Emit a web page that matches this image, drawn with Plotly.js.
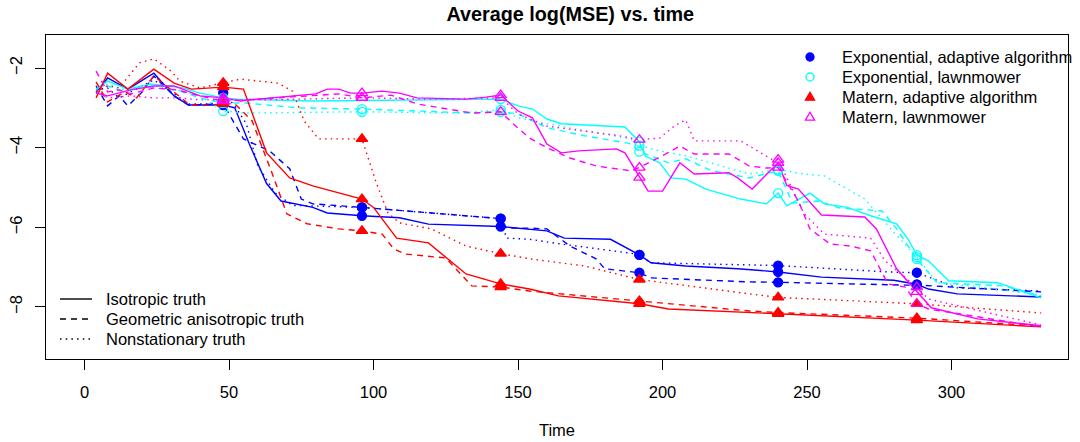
<!DOCTYPE html>
<html>
<head>
<meta charset="utf-8">
<script src="https://cdn.plot.ly/plotly-3.0.1.min.js"></script>
<style>html,body{margin:0;padding:0;background:#fff;}#chart{width:1080px;height:442px;}</style>
</head>
<body>
<div id="chart"></div>
<script>
// ---------- DATA ----------
const markerTimes = [48, 96, 144, 192, 240, 288];

// Exponential, adaptive algorithm (blue)
const expAdaptIsoT  = [4, 8, 15, 24, 31, 36, 48, 52, 57, 63, 68, 79, 84, 96, 109, 119, 144, 154, 160, 166, 182, 192, 196, 208, 226, 240, 255, 280, 288, 292, 302, 331];
const expAdaptIsoY  = [-2.63, -2.25, -2.53, -2.13, -2.70, -2.93, -2.93, -3.00, -3.90, -4.90, -5.34, -5.50, -5.64, -5.71, -5.76, -5.92, -5.98, -6.06, -6.09, -6.27, -6.30, -6.69, -6.89, -6.97, -7.04, -7.12, -7.25, -7.33, -7.43, -7.55, -7.67, -7.75];
const expAdaptGeoT  = [4, 8, 12, 15, 20, 24, 31, 36, 48, 55, 64, 71, 75, 79, 96, 144, 146, 154, 160, 168, 177, 180, 192, 196, 230, 240, 284, 288, 331];
const expAdaptGeoY  = [-2.45, -2.95, -2.70, -2.95, -2.60, -2.20, -2.70, -2.93, -2.90, -3.78, -4.08, -4.53, -5.29, -5.41, -5.50, -5.78, -6.02, -6.02, -6.04, -6.47, -6.79, -7.04, -7.14, -7.27, -7.37, -7.38, -7.45, -7.45, -7.62];
const expAdaptNonT  = [4, 8, 12, 16, 20, 24, 31, 36, 44, 48, 52, 56, 60, 66, 72, 96, 144, 146, 154, 165, 189, 192, 196, 230, 240, 278, 288, 302, 331];
const expAdaptNonY  = [-2.55, -2.50, -2.75, -2.60, -2.45, -2.30, -2.65, -2.90, -2.90, -2.62, -2.95, -3.40, -4.46, -5.14, -5.45, -5.50, -5.78, -6.27, -6.30, -6.42, -6.65, -6.69, -6.89, -6.93, -6.96, -7.12, -7.14, -7.52, -7.60];

// Exponential, lawnmower (cyan)
const expLawnIsoT   = [4, 8, 15, 23, 34, 40, 48, 53, 79, 144, 150, 155, 160, 165, 187, 192, 194, 199, 203, 208, 215, 227, 236, 240, 243, 251, 256, 264, 272, 281, 285, 288, 292, 299, 316, 331];
const expLawnIsoY   = [-2.53, -2.33, -2.53, -2.40, -2.50, -2.63, -2.75, -2.78, -2.83, -2.78, -2.95, -3.03, -3.28, -3.40, -3.48, -3.85, -4.21, -4.38, -4.76, -4.79, -5.04, -5.29, -5.41, -5.14, -5.46, -5.14, -5.41, -5.50, -5.71, -5.91, -6.30, -6.70, -6.84, -7.34, -7.39, -7.77];
const expLawnGeoT   = [4, 8, 14, 20, 24, 32, 40, 48, 56, 74, 96, 134, 144, 150, 160, 173, 189, 192, 196, 202, 208, 217, 230, 240, 245, 254, 261, 276, 281, 288, 295, 318, 331];
const expLawnGeoY   = [-2.60, -2.45, -2.60, -2.45, -2.50, -2.55, -2.75, -2.88, -2.88, -3.00, -3.03, -3.13, -3.10, -3.15, -3.50, -3.70, -3.90, -4.10, -4.21, -4.38, -4.28, -4.58, -4.76, -4.58, -5.39, -5.34, -5.51, -5.59, -6.04, -6.80, -7.39, -7.47, -7.72];
const expLawnNonT   = [4, 8, 14, 20, 24, 32, 40, 48, 56, 96, 130, 144, 150, 160, 189, 192, 199, 208, 230, 240, 249, 256, 270, 279, 288, 295, 310, 331];
const expLawnNonY   = [-2.55, -2.40, -2.55, -2.50, -2.45, -2.55, -2.70, -3.08, -3.13, -3.10, -3.13, -3.05, -3.25, -3.40, -3.78, -3.95, -4.08, -4.20, -4.66, -4.55, -4.66, -4.71, -5.29, -6.04, -6.75, -7.39, -7.50, -7.70];

// Matern, adaptive algorithm (red)
const matAdaptIsoT  = [4, 8, 15, 24, 31, 37, 48, 55, 63, 71, 79, 86, 96, 100, 108, 119, 132, 144, 154, 164, 192, 202, 230, 240, 288, 331];
const matAdaptIsoY  = [-2.75, -2.13, -2.53, -2.03, -2.38, -2.53, -2.48, -2.53, -4.13, -4.76, -4.96, -5.09, -5.29, -5.50, -6.27, -6.39, -7.17, -7.42, -7.55, -7.72, -7.92, -8.05, -8.15, -8.17, -8.33, -8.50];
const matAdaptGeoT  = [4, 8, 14, 18, 24, 30, 36, 40, 48, 52, 58, 65, 70, 77, 88, 96, 103, 107, 111, 125, 131, 134, 144, 154, 192, 230, 240, 288, 331];
const matAdaptGeoY  = [-2.35, -2.85, -2.60, -2.75, -2.20, -2.55, -2.90, -2.95, -2.90, -2.90, -3.33, -4.66, -5.66, -5.91, -6.04, -6.09, -6.17, -6.54, -6.67, -6.77, -7.22, -7.47, -7.50, -7.60, -7.85, -8.10, -8.14, -8.28, -8.48];
const matAdaptNonT  = [4, 8, 12, 19, 24, 30, 33, 40, 48, 54, 67, 72, 76, 81, 96, 101, 105, 109, 120, 132, 144, 154, 173, 192, 230, 240, 288, 331];
const matAdaptNonY  = [-2.60, -2.45, -2.50, -1.87, -1.77, -2.08, -2.33, -2.50, -2.37, -2.28, -2.38, -2.58, -3.33, -3.78, -3.78, -4.89, -5.64, -5.89, -6.04, -6.47, -6.66, -6.79, -6.97, -7.31, -7.67, -7.76, -7.92, -8.15];

// Matern, lawnmower (magenta)
const matLawnIsoT   = [4, 8, 16, 24, 31, 40, 48, 54, 60, 74, 80, 84, 88, 92, 96, 103, 109, 115, 132, 139, 144, 150, 155, 160, 165, 171, 184, 187, 192, 195, 200, 206, 211, 223, 226, 231, 240, 243, 247, 255, 270, 274, 281, 288, 293, 309, 331];
const matLawnIsoY   = [-2.63, -2.70, -2.55, -2.45, -2.45, -2.70, -2.75, -2.83, -2.78, -2.70, -2.65, -2.53, -2.53, -2.63, -2.63, -2.58, -2.63, -2.75, -2.78, -2.73, -2.68, -3.08, -3.25, -3.91, -4.13, -4.08, -4.03, -4.13, -4.75, -5.09, -5.09, -4.38, -4.66, -4.63, -4.76, -5.04, -4.38, -4.95, -5.04, -5.69, -5.74, -6.04, -7.04, -7.62, -8.02, -8.30, -8.47];
const matLawnGeoT   = [4, 8, 12, 16, 24, 32, 40, 48, 60, 88, 96, 106, 115, 126, 134, 144, 148, 154, 160, 168, 177, 189, 192, 201, 206, 211, 223, 230, 236, 240, 247, 251, 258, 265, 272, 278, 284, 288, 292, 311, 331];
const matLawnGeoY   = [-2.08, -2.60, -2.55, -2.65, -2.50, -2.55, -2.70, -2.83, -2.78, -2.65, -2.75, -2.68, -2.90, -3.03, -3.13, -3.10, -3.38, -3.76, -4.00, -4.26, -4.46, -4.58, -4.50, -4.16, -3.96, -4.16, -4.16, -4.46, -4.51, -4.50, -5.34, -6.04, -6.42, -6.47, -6.59, -7.42, -7.50, -7.92, -8.05, -8.27, -8.50];
const matLawnNonT   = [4, 8, 16, 24, 32, 40, 48, 60, 74, 96, 120, 144, 150, 160, 185, 192, 199, 204, 208, 211, 227, 238, 240, 249, 256, 272, 277, 288, 292, 331];
const matLawnNonY   = [-2.55, -2.75, -2.70, -2.75, -2.75, -2.80, -2.80, -2.80, -2.78, -2.75, -2.78, -2.75, -3.15, -3.46, -3.70, -3.80, -3.76, -3.46, -3.30, -3.83, -3.83, -4.30, -4.30, -5.66, -6.17, -6.27, -6.84, -7.50, -7.80, -8.45];

const groupNames  = ["Exponential, adaptive algorithm", "Exponential, lawnmower", "Matern, adaptive algorithm", "Matern, lawnmower"];
const truthNames  = ["Isotropic truth", "Geometric anisotropic truth", "Nonstationary truth"];

// ---------- STYLE ----------
const groupColors  = ["#0000FF", "#00FFFF", "#FF0000", "#FF00FF"];
const groupSymbols = ["circle", "circle-open", "triangle-up", "triangle-up-open"];
const groupFilled  = [true, false, true, false];
const groupSizes   = [9, 9, 10, 10];
const truthDashes  = ["solid", "6px,5px", "1.5px,4.2px"];
const FONT = "Liberation Sans, Arial, Helvetica, sans-serif";

// plot area in pixels (for placing the legends)
const PL = 46, PR = 1068, PT = 35, PB = 359;
const px2x = p => (p - PL) / (PR - PL);
const px2y = p => (PB - p) / (PB - PT);

const groups = [
  [[expAdaptIsoT, expAdaptIsoY], [expAdaptGeoT, expAdaptGeoY], [expAdaptNonT, expAdaptNonY]],
  [[expLawnIsoT, expLawnIsoY], [expLawnGeoT, expLawnGeoY], [expLawnNonT, expLawnNonY]],
  [[matAdaptIsoT, matAdaptIsoY], [matAdaptGeoT, matAdaptGeoY], [matAdaptNonT, matAdaptNonY]],
  [[matLawnIsoT, matLawnIsoY], [matLawnGeoT, matLawnGeoY], [matLawnNonT, matLawnNonY]]
];

const traces = [];
groups.forEach((g, gi) => {
  g.forEach((s, si) => {
    traces.push({
      type: "scatter", mode: "lines", x: s[0], y: s[1], name: groupNames[gi] + " / " + truthNames[si],
      line: {color: groupColors[gi], width: 1.4, dash: truthDashes[si]},
      showlegend: false, hoverinfo: "skip"
    });
  });
});
groups.forEach((g, gi) => {
  const mx = [], my = [];
  g.forEach(s => {
    markerTimes.forEach(mt => {
      const k = s[0].indexOf(mt);
      if (k >= 0) { mx.push(mt); my.push(s[1][k]); }
    });
  });
  traces.push({
    type: "scatter", mode: "markers", x: mx, y: my, name: groupNames[gi],
    marker: {symbol: groupSymbols[gi], size: groupSizes[gi], color: groupColors[gi],
             line: {color: groupColors[gi], width: 1.3}},
    showlegend: false, hoverinfo: "skip"
  });
});

// ---------- LEGENDS (drawn as shapes + annotations) ----------
const shapes = [], annotations = [];
const legFont = {family: FONT, size: 16.5, color: "#000000"};
// top-right: algorithm / covariance legend (point symbols)
groupNames.forEach((nm, i) => {
  const cy = px2y(57 + 20 * i), cx = px2x(810);
  const base = {xref: "paper", yref: "paper", xsizemode: "pixel", ysizemode: "pixel", xanchor: cx, yanchor: cy,
                line: {color: groupColors[i], width: 1.3},
                fillcolor: groupFilled[i] ? groupColors[i] : "rgba(0,0,0,0)"};
  if (groupSymbols[i].indexOf("circle") === 0) {
    shapes.push(Object.assign({type: "circle", x0: -4, x1: 4, y0: -4, y1: 4}, base));
  } else {
    shapes.push(Object.assign({type: "path", path: "M-4.6,-3.2 L4.6,-3.2 L0,4.8 Z"}, base));
  }
  annotations.push({xref: "paper", yref: "paper", x: px2x(840), y: cy, xanchor: "left", yanchor: "middle",
                    text: nm, showarrow: false, font: legFont});
});
// bottom-left: truth legend (line styles)
truthNames.forEach((nm, i) => {
  const cy = px2y(299 + 20 * i);
  shapes.push({type: "line", xref: "paper", yref: "paper", x0: px2x(60), x1: px2x(92), y0: cy, y1: cy,
               line: {color: "#000000", width: 1.4, dash: truthDashes[i]}});
  annotations.push({xref: "paper", yref: "paper", x: px2x(104), y: cy, xanchor: "left", yanchor: "middle",
                    text: nm, showarrow: false, font: legFont});
});

const layout = {
  width: 1080, height: 442,
  margin: {l: PL, r: 1080 - PR, t: PT, b: 442 - PB},
  paper_bgcolor: "#ffffff", plot_bgcolor: "#ffffff",
  font: {family: FONT, size: 16.5, color: "#000000"},
  title: {text: "<b>Average log(MSE) vs. time</b>", font: {family: FONT, size: 19.8, color: "#000000"},
          x: 0.513, xref: "paper", xanchor: "center", y: 1 - 14/442, yref: "container", yanchor: "middle"},
  xaxis: {
    range: [-13.32, 340.3], tickvals: [0, 50, 100, 150, 200, 250, 300],
    showgrid: false, zeroline: false, showline: true, mirror: true, linecolor: "#000000", linewidth: 1,
    ticks: "outside", ticklen: 10, tickwidth: 1, tickcolor: "#000000", ticklabelstandoff: 8,
    tickfont: {family: FONT, size: 16.5, color: "#000000"},
    title: {text: "Time", font: {family: FONT, size: 16.5, color: "#000000"}, standoff: 24}
  },
  yaxis: {
    range: [-9.306, -1.171], tickvals: [-8, -6, -4, -2],
    showgrid: false, zeroline: false, showline: true, mirror: true, linecolor: "#000000", linewidth: 1,
    ticks: "outside", ticklen: 10, tickwidth: 1, tickcolor: "#000000", tickangle: -90, ticklabelstandoff: 6,
    tickfont: {family: FONT, size: 16.5, color: "#000000"}
  },
  shapes: shapes,
  annotations: annotations,
  showlegend: false
};

Plotly.newPlot("chart", traces, layout, {staticPlot: true, displayModeBar: false});
</script>
</body>
</html>
